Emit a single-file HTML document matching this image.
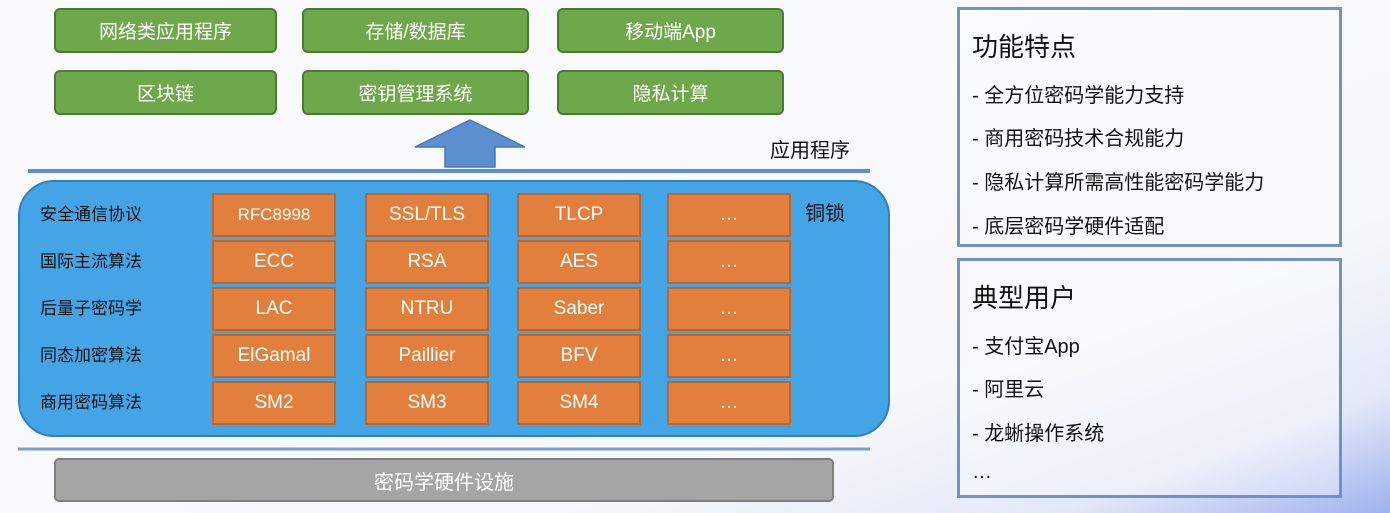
<!DOCTYPE html>
<html><head><meta charset="utf-8"><style>
*{margin:0;padding:0;box-sizing:border-box}
body{width:1390px;height:513px;position:relative;overflow:hidden;font-family:"Liberation Sans","Noto Sans CJK SC",sans-serif;
background:linear-gradient(160deg,#fbfbfd 0%,#f7f8fb 70%,#e4e9f8 88%,#9fb2ee 100%)}
.a{position:absolute}
.g{background:#6fa84a;border:2px solid #4a7a35;border-radius:6px;color:#fff;font-size:19px;display:flex;align-items:center;justify-content:center;height:45px;width:223px}
.o{background:#e27f3c;border:2px solid #c0652a;color:#fff;font-size:19px;display:flex;align-items:center;justify-content:center;width:124px;height:44px}
.l{color:#111;font-size:17px;left:40px}
.p{border:3px solid #6f93c9;background:rgba(255,255,255,.35);left:957px;width:385px}
.t{font-size:26px;color:#111;left:12px}
.i{font-size:20px;color:#111;left:12px}
</style></head><body>
<div class="a g" style="left:54px;top:8px">网络类应用程序</div>
<div class="a g" style="left:302px;top:8px;width:227px">存储/数据库</div>
<div class="a g" style="left:557px;top:8px;width:227px">移动端App</div>
<div class="a g" style="left:54px;top:70px">区块链</div>
<div class="a g" style="left:302px;top:70px;width:227px">密钥管理系统</div>
<div class="a g" style="left:557px;top:70px;width:227px">隐私计算</div>
<svg class="a" style="left:0;top:0" width="900" height="513">
<polygon points="470,120 525,147 495,147 495,167 445,167 445,147 415,147" fill="#5b8fd0" stroke="#4a78b8" stroke-width="1.5"/>
<line x1="28" y1="171" x2="870" y2="171" stroke="#5c8ed0" stroke-width="4"/>
<line x1="18" y1="449" x2="870" y2="449" stroke="#7a9ed2" stroke-width="3"/>
</svg>
<div class="a" style="left:770px;top:134px;font-size:20px;color:#111">应用程序</div>
<div class="a" style="left:18px;top:180px;width:872px;height:257px;background:#44a5e6;border:2px solid #3180c0;border-radius:36px"></div>
<div class="a" style="left:805px;top:197px;font-size:20px;color:#111">铜锁</div>
<div class="a l" style="top:200px">安全通信协议</div>
<div class="a l" style="top:247px">国际主流算法</div>
<div class="a l" style="top:294px">后量子密码学</div>
<div class="a l" style="top:341px">同态加密算法</div>
<div class="a l" style="top:388px">商用密码算法</div>
<div class="a o" style="left:212px;top:193px;font-size:17px">RFC8998</div>
<div class="a o" style="left:365px;top:193px">SSL/TLS</div>
<div class="a o" style="left:517px;top:193px">TLCP</div>
<div class="a o" style="left:667px;top:193px">…</div>
<div class="a o" style="left:212px;top:240px">ECC</div>
<div class="a o" style="left:365px;top:240px">RSA</div>
<div class="a o" style="left:517px;top:240px">AES</div>
<div class="a o" style="left:667px;top:240px">…</div>
<div class="a o" style="left:212px;top:287px">LAC</div>
<div class="a o" style="left:365px;top:287px">NTRU</div>
<div class="a o" style="left:517px;top:287px">Saber</div>
<div class="a o" style="left:667px;top:287px">…</div>
<div class="a o" style="left:212px;top:334px">ElGamal</div>
<div class="a o" style="left:365px;top:334px">Paillier</div>
<div class="a o" style="left:517px;top:334px">BFV</div>
<div class="a o" style="left:667px;top:334px">…</div>
<div class="a o" style="left:212px;top:381px">SM2</div>
<div class="a o" style="left:365px;top:381px">SM3</div>
<div class="a o" style="left:517px;top:381px">SM4</div>
<div class="a o" style="left:667px;top:381px">…</div>
<div class="a" style="left:54px;top:458px;width:780px;height:44px;background:#a5a5a5;border:2px solid #7f7f7f;border-radius:5px;color:#fff;font-size:20px;display:flex;align-items:center;justify-content:center">密码学硬件设施</div>
<div class="a p" style="top:7px;height:240px">
<div class="a t" style="top:17px">功能特点</div>
<div class="a i" style="top:69px">- 全方位密码学能力支持</div>
<div class="a i" style="top:112px">- 商用密码技术合规能力</div>
<div class="a i" style="top:156px">- 隐私计算所需高性能密码学能力</div>
<div class="a i" style="top:200px">- 底层密码学硬件适配</div>
</div>
<div class="a p" style="top:258px;height:240px">
<div class="a t" style="top:17px">典型用户</div>
<div class="a i" style="top:69px">- 支付宝App</div>
<div class="a i" style="top:112px">- 阿里云</div>
<div class="a i" style="top:156px">- 龙蜥操作系统</div>
<div class="a i" style="top:200px">…</div>
</div>
</body></html>
